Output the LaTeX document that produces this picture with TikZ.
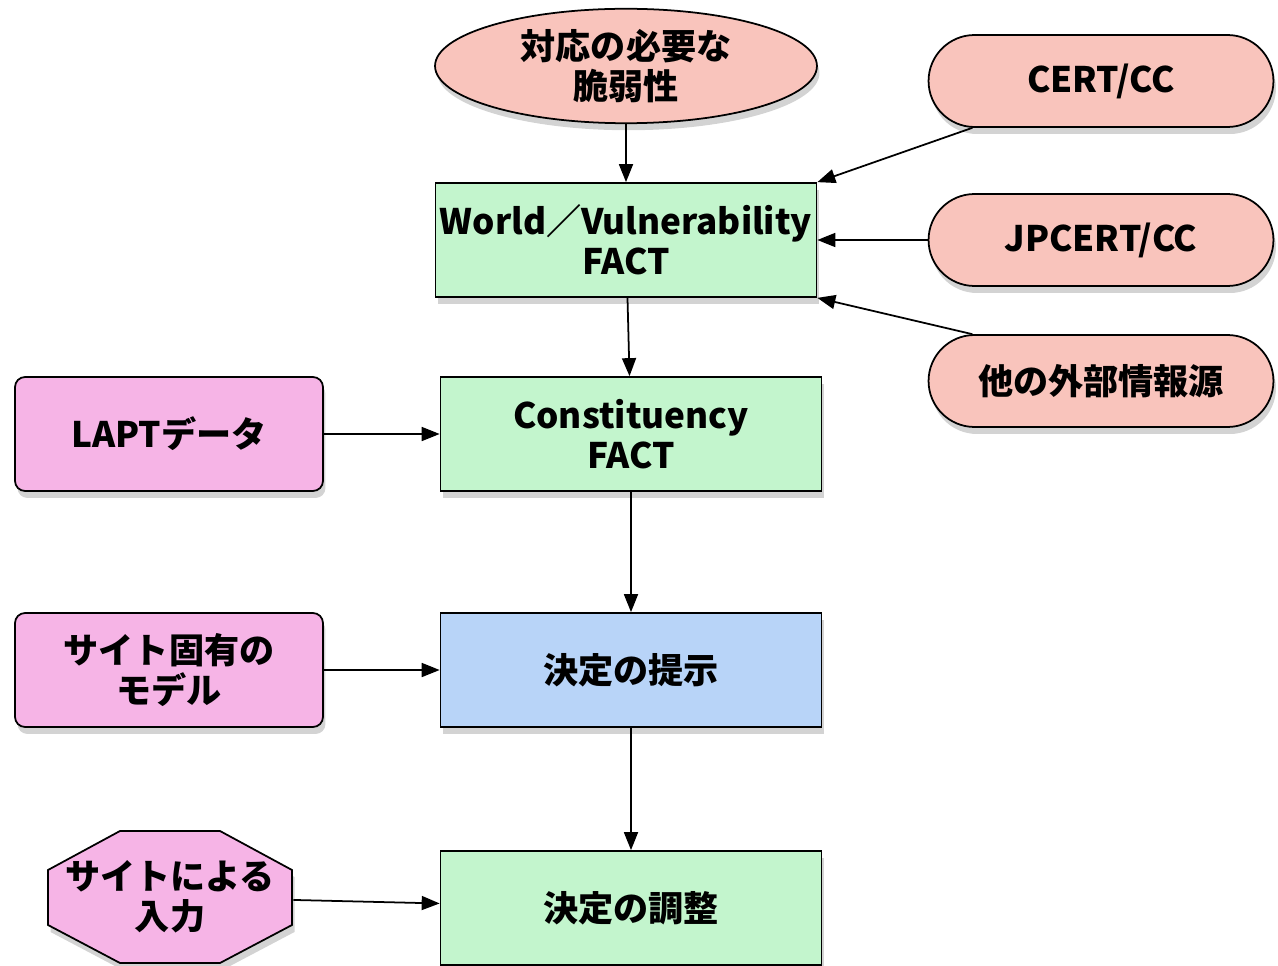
\documentclass[tikz,border=0pt]{standalone}
\usepackage{fontspec}
\setmainfont{Noto Sans CJK JP}
\usetikzlibrary{shapes.geometric,shapes.misc,shadows,arrows.meta}
\definecolor{srcpink}{HTML}{F9C4BC}
\definecolor{factgreen}{HTML}{C3F5CD}
\definecolor{decblue}{HTML}{B8D4F8}
\definecolor{sitepink}{HTML}{F6B4E6}

\begin{document}
\begin{tikzpicture}[x=0.02cm, y=-0.02cm,
	shade/.style={drop shadow={opacity=0.35, shadow xshift=0.05cm, shadow yshift=-0.14cm}},
	every node/.style={font=\bfseries\fontsize{20pt}{23pt}\selectfont, align=center, line width=1pt, inner sep=2pt},
	box/.style={draw=black, shade},
	fact/.style={box, rectangle, fill=factgreen, minimum width=7.62cm, minimum height=2.28cm},
	source/.style={box, rounded rectangle, fill=srcpink, minimum width=7.04cm, minimum height=1.84cm},
	site/.style={box, rectangle, rounded corners=0.2cm, fill=sitepink, minimum width=6.16cm, minimum height=2.28cm},
	flow/.style={-{Triangle[length=0.36cm,width=0.28cm]}, line width=1pt}]
	\useasboundingbox (0,0) rectangle (1278,966);
	\node[box, ellipse, fill=srcpink, minimum width=7.64cm, minimum height=2.24cm] (vuln) at (626,66) {対応の必要な\\脆弱性};
	\node[fact] (world) at (626,240) {World／Vulnerability\\FACT};
	\node[fact] (constit) at (631,434) {Constituency\\FACT};
	\node[fact, fill=decblue] (present) at (631,670) {決定の提示};
	\node[fact] (adjust) at (631,908) {決定の調整};
	\node[source] (cert) at (1101,81) {CERT/CC};
	\node[source] (jpcert) at (1101,240) {JPCERT/CC};
	\node[source] (others) at (1101,381) {他の外部情報源};
	\node[site] (lapt) at (169,434) {LAPTデータ};
	\node[site] (model) at (169,670) {サイト固有の\\モデル};
	\coordinate (octc) at (170,897);
	\draw[fill=sitepink, line width=1pt, shade] (octc) ++(-50,-66) -- ++(100,0) -- ++(72,39) -- ++(0,55) -- ++(-72,38) -- ++(-100,0) -- ++(-72,-38) -- ++(0,-55) -- cycle;
	\node[rectangle, minimum width=4.9cm, minimum height=2.64cm] (siteinput) at (octc) {サイトによる\\入力};
	\draw[flow] (vuln) -- (world);
	\draw[flow] (cert.200) -- (world.north east);
	\draw[flow] (jpcert) -- (world);
	\draw[flow] (others.160) -- (world.south east);
	\draw[flow] (world) -- (constit);
	\draw[flow] (lapt) -- (constit);
	\draw[flow] (constit) -- (present);
	\draw[flow] (model) -- (present);
	\draw[flow] (present) -- (adjust);
	\draw[flow] (siteinput) -- (adjust);
\end{tikzpicture}
\end{document}
